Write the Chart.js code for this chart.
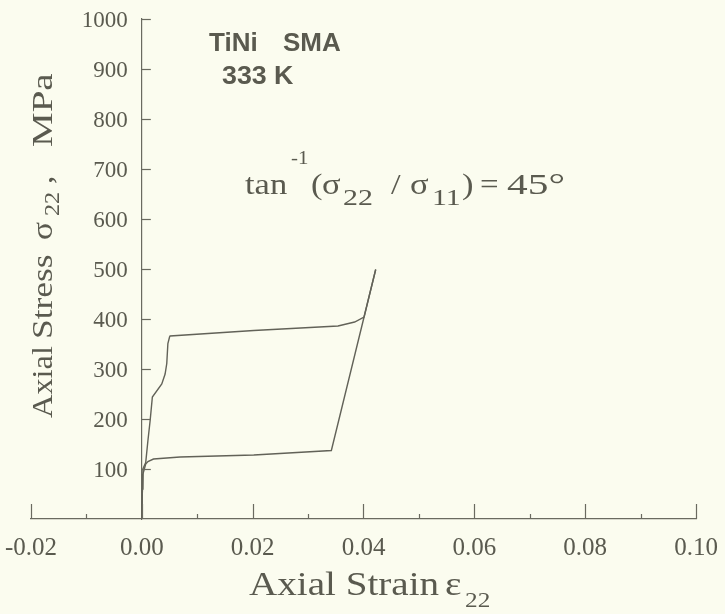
<!DOCTYPE html>
<html><head><meta charset="utf-8">
<script src="https://cdn.jsdelivr.net/npm/chart.js@4.4.0/dist/chart.umd.min.js"></script>
<style>html,body{margin:0;padding:0;background:#fbfcef;} canvas{display:block;}</style>
</head><body>
<canvas id="c" width="725" height="614"></canvas>
<script>
// ---- data ----
const loadingStrain = [0, 0.0001, 0.0002, 0.0007, 0.0011, 0.0015, 0.0019, 0.0036, 0.0042, 0.0045, 0.0047, 0.0050, 0.0051, 0.0202, 0.0354, 0.0384, 0.0401, 0.0422];
const loadingStress = [0, 60, 100, 113, 157, 197, 244, 270, 290, 311, 351, 364, 366, 377, 386, 394, 404, 499];
const unloadingStrain = [0.0422, 0.0401, 0.0342, 0.0202, 0.0069, 0.0021, 0.0011, 0.0007, 0.0002, 0.0001, 0];
const unloadingStress = [499, 404, 137, 128, 124, 120, 115, 110, 90, 60, 0];
const xMajorTicks = [-0.02, 0.00, 0.02, 0.04, 0.06, 0.08, 0.10];
const xTickLabels = ['-0.02', '0.00', '0.02', '0.04', '0.06', '0.08', '0.10'];
const yTickValues = [100, 200, 300, 400, 500, 600, 700, 800, 900, 1000];
const yTickLabels = ['100', '200', '300', '400', '500', '600', '700', '800', '900', '1000'];

const BG = '#fbfcef', TEXT = '#5a5a4f', AXIS = '#6a6a60', LINE = '#626258';
const SERIF = '"Liberation Serif", "Times New Roman", serif';
const SANS = '"Liberation Sans", Arial, sans-serif';

function pts(xs, ys) { return xs.map((x, i) => ({ x: x, y: ys[i] })); }

const bgPlugin = {
  id: 'bg',
  beforeDraw(chart) {
    const c = chart.ctx; c.save(); c.fillStyle = BG; c.fillRect(0, 0, chart.width, chart.height); c.restore();
  }
};

const tickPlugin = {
  id: 'inTicks',
  afterDraw(chart) {
    const c = chart.ctx, xs = chart.scales.x, ys = chart.scales.y;
    const bottom = chart.chartArea.bottom;
    c.save(); c.strokeStyle = AXIS; c.lineWidth = 1.2;
    xs.ticks.forEach(t => {
      const major = xMajorTicks.some(m => Math.abs(m - t.value) < 1e-9);
      const px = Math.round(xs.getPixelForValue(t.value)) + 0.5;
      const len = major ? 15 : 5;
      c.beginPath(); c.moveTo(px, bottom); c.lineTo(px, bottom - len); c.stroke();
    });
    const x0 = xs.getPixelForValue(0);
    // y tick marks (pointing right) and labels, placed by the y scale
    c.fillStyle = TEXT; c.font = '23px ' + SERIF; c.textAlign = 'right'; c.textBaseline = 'middle';
    ys.ticks.forEach(t => {
      if (t.value <= 0) return;
      const py = Math.round(ys.getPixelForValue(t.value)) + 0.5;
      c.beginPath(); c.moveTo(x0, py); c.lineTo(x0 + 9, py); c.stroke();
      const i = yTickValues.indexOf(t.value);
      if (i >= 0) c.fillText(yTickLabels[i], x0 - 14, py + 1);
    });
    c.restore();
  }
};

function run(c, text, font, x, y, sx) {
  c.save(); c.font = font; c.translate(x, y); c.scale(sx || 1, 1); c.fillText(text, 0, 0); c.restore();
}

const textPlugin = {
  id: 'texts',
  afterDraw(chart) {
    const c = chart.ctx;
    c.save(); c.fillStyle = TEXT; c.textBaseline = 'alphabetic'; c.textAlign = 'left';
    // sample labels
    run(c, 'TiNi', 'bold 26px ' + SANS, 209, 51);
    run(c, 'SMA', 'bold 26px ' + SANS, 283, 51);
    run(c, '333 K', 'bold 26px ' + SANS, 222, 84, 1.03);
    // loading path
    const f = 30, s = 1.15, sub = '23px ' + SERIF;
    run(c, 'tan', f + 'px ' + SERIF, 245, 194, s);
    run(c, '-1', '19px ' + SERIF, 291, 164, 1.1);
    run(c, '(', f + 'px ' + SERIF, 311, 194, s);
    run(c, '\u03c3', f + 'px ' + SERIF, 322, 194, s);
    run(c, '22', sub, 343, 205, 1.3);
    run(c, '/', f + 'px ' + SERIF, 391, 194, s);
    run(c, '\u03c3', f + 'px ' + SERIF, 410, 194, s);
    run(c, '11', sub, 432, 205, 1.3);
    run(c, ')', f + 'px ' + SERIF, 462, 194, s);
    run(c, '=', f + 'px ' + SERIF, 480, 194, 1.1);
    run(c, '45\u00b0', f + 'px ' + SERIF, 507, 194, 1.38);
    // x title
    run(c, 'Axial Strain', '34px ' + SERIF, 249, 595, 1.15);
    run(c, '\u03b5', '34px ' + SERIF, 445, 595, 1.15);
    run(c, '22', '22px ' + SERIF, 465, 607, 1.15);
    // y title (rotated)
    c.save(); c.translate(52, 0); c.rotate(-Math.PI / 2);
    run(c, 'Axial', '30px ' + SERIF, -418, 0, 1.08);
    run(c, 'Stress', '30px ' + SERIF, -339, 0, 1.18);
    run(c, '\u03c3', '30px ' + SERIF, -240, 0, 1.12);
    run(c, '22', '21px ' + SERIF, -216, 7, 1.15);
    run(c, ',', '30px ' + SERIF, -184, 0, 1.1);
    run(c, 'MPa', '30px ' + SERIF, -147, 0, 1.3);
    c.restore();
    c.restore();
  }
};

new Chart(document.getElementById('c'), {
  type: 'scatter',
  data: {
    datasets: [
      { label: 'loading', data: pts(loadingStrain, loadingStress), showLine: true, borderColor: LINE, borderWidth: 1.4, pointRadius: 0, tension: 0, fill: false },
      { label: 'unloading', data: pts(unloadingStrain, unloadingStress), showLine: true, borderColor: LINE, borderWidth: 1.4, pointRadius: 0, tension: 0, fill: false }
    ]
  },
  options: {
    responsive: false,
    animation: false,
    layout: { padding: { left: 31, right: 29, top: 19, bottom: 37 } },
    plugins: { legend: { display: false }, tooltip: { enabled: false } },
    scales: {
      x: {
        type: 'linear', min: -0.02, max: 0.10,
        afterFit: (scale) => { scale.paddingLeft = 0; scale.paddingRight = 0; },
        ticks: {
          stepSize: 0.01, autoSkip: false, maxRotation: 0, padding: 14, color: TEXT,
          font: { family: SERIF, size: 25 },
          callback: (v) => { const i = xMajorTicks.findIndex(m => Math.abs(m - v) < 1e-9); return i >= 0 ? xTickLabels[i] : ''; }
        },
        grid: { display: true, drawOnChartArea: false, drawTicks: false },
        border: { display: true, color: AXIS, width: 1.2 }
      },
      y: {
        type: 'linear', min: 0, max: 1000, position: { x: 0 },
        afterFit: (scale) => { scale.paddingTop = 0; scale.paddingBottom = 0; },
        ticks: { stepSize: 100, autoSkip: false, display: false },
        grid: { display: true, drawOnChartArea: false, drawTicks: false },
        border: { display: true, color: AXIS, width: 1.2 }
      }
    }
  },
  plugins: [bgPlugin, tickPlugin, textPlugin]
});
</script>
</body></html>
